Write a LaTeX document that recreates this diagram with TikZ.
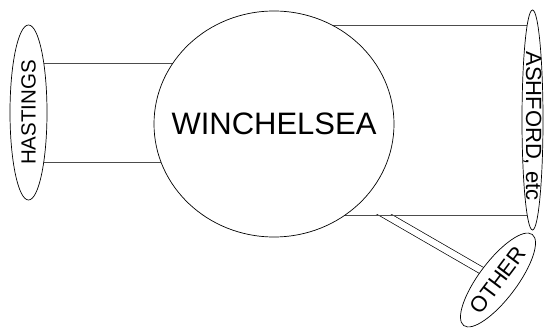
\documentclass[tikz,border=0pt]{standalone}
\usepackage{fontspec}
\setmainfont{Liberation Sans}
\usetikzlibrary{shapes.geometric,backgrounds}

\begin{document}
\begin{tikzpicture}[
  x=1pt,y=1pt,
  town/.style={ellipse,draw=black,line width=0.7pt,fill=white,inner sep=0pt},
  townname/.style={font=\fontsize{#1}{#1}\selectfont,inner sep=0pt},
  road/.style={draw=black!70,line width=0.8pt},
  minorroad/.style={draw=black,line width=0.7pt,double=white,double distance=6.4pt}
]
  \useasboundingbox (0,0) rectangle (544,327);

  \node[town,minimum width=240pt,minimum height=226pt] (winchelsea) at (274,203) {};
  \node[townname=31] (winchelseaname) at (winchelsea) {WINCHELSEA};

  \node[town,rotate=90,minimum width=175pt,minimum height=37pt] (hastings) at (28.5,214.5) {};
  \node[townname=20.5,rotate=90] (hastingsname) at (hastings) {HASTINGS};

  \node[town,rotate=-90,minimum width=220pt,minimum height=21pt] (ashford) at (532.5,207) {};
  \node[townname=22,rotate=-90] (ashfordname) at ([yshift=-6pt]ashford.center) {ASHFORD, etc};

  \node[town,rotate=53,minimum width=114pt,minimum height=38pt] (other) at (498,47) {};
  \node[townname=22,rotate=53] (othername) at (other) {OTHER};

  % branch off the lower Ashford road
  \coordinate (fork) at (385.5,112);

  \begin{scope}[on background layer]
    \begin{scope}
      \clip (fork -| winchelsea.west) rectangle (544,0);
      \draw[minorroad] ([shift={(150:10)}]fork) -- (other.center);
    \end{scope}
    \draw[road] ([yshift=49.5pt]hastings.center) -- ([yshift=49.5pt]hastings.center -| winchelsea.center);
    \draw[road] ([yshift=-49.5pt]hastings.center) -- ([yshift=-49.5pt]hastings.center -| winchelsea.center);
    \draw[road] ([yshift=95pt]ashford.center) -- ([yshift=95pt]ashford.center -| winchelsea.center);
    \draw[road] ([yshift=-95pt]ashford.center) -- ([yshift=-95pt]ashford.center -| winchelsea.center);
  \end{scope}
\end{tikzpicture}
\end{document}
